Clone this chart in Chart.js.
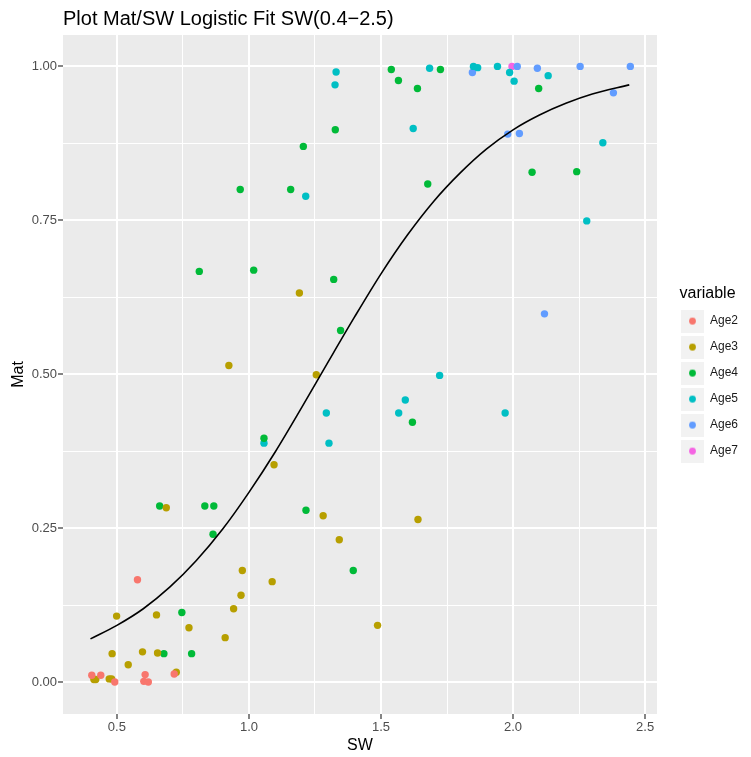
<!DOCTYPE html>
<html>
<head>
<meta charset="utf-8">
<script src="https://cdn.jsdelivr.net/npm/chart.js@4/dist/chart.umd.min.js"></script>
<style>
  html, body { margin: 0; padding: 0; background: #ffffff; }
  #wrap { width: 751px; height: 757px; }
</style>
</head>
<body>
<div id="wrap"><canvas id="c" width="751" height="757"></canvas></div>
<script>
// ---- data ----
const chartTitle = "Plot Mat/SW Logistic Fit SW(0.4\u22122.5)";
const xTitle = "SW";
const yTitle = "Mat";
const legendTitle = "variable";
const seriesNames = ["Age2", "Age3", "Age4", "Age5", "Age6", "Age7"];
const seriesColors = ["#F8766D", "#B79F00", "#00BA38", "#00BFC4", "#619CFF", "#F564E3"];

const age2SW  = [0.405, 0.439, 0.492, 0.578, 0.602, 0.607, 0.619, 0.717];
const age2Mat = [0.011, 0.011, 0.000, 0.166, 0.001, 0.012, 0.000, 0.013];

const age3SW  = [0.413, 0.420, 0.471, 0.480, 0.482, 0.499, 0.543, 0.597, 0.650, 0.654, 0.687, 0.725, 0.773, 0.910, 0.924, 0.942, 0.970, 0.975, 1.088, 1.095, 1.191, 1.255, 1.281, 1.342, 1.487, 1.640];
const age3Mat = [0.004, 0.004, 0.005, 0.005, 0.046, 0.107, 0.028, 0.049, 0.109, 0.047, 0.283, 0.016, 0.088, 0.072, 0.514, 0.119, 0.141, 0.181, 0.163, 0.353, 0.632, 0.499, 0.270, 0.231, 0.092, 0.264];

const age4SW  = [0.662, 0.678, 0.746, 0.783, 0.812, 0.833, 0.864, 0.867, 0.967, 1.018, 1.057, 1.158, 1.206, 1.216, 1.321, 1.327, 1.347, 1.395, 1.539, 1.566, 1.619, 1.638, 1.677, 1.725, 2.072, 2.097, 2.241];
const age4Mat = [0.286, 0.046, 0.113, 0.046, 0.667, 0.286, 0.240, 0.286, 0.800, 0.669, 0.396, 0.800, 0.870, 0.279, 0.654, 0.897, 0.571, 0.181, 0.995, 0.977, 0.422, 0.964, 0.809, 0.995, 0.828, 0.964, 0.829];

const age5SW  = [1.057, 1.215, 1.293, 1.303, 1.326, 1.330, 1.567, 1.592, 1.622, 1.684, 1.722, 1.850, 1.866, 1.941, 1.970, 1.987, 2.004, 2.133, 2.279, 2.340];
const age5Mat = [0.388, 0.789, 0.437, 0.388, 0.970, 0.991, 0.437, 0.458, 0.899, 0.997, 0.498, 1.000, 0.998, 1.000, 0.437, 0.990, 0.976, 0.985, 0.749, 0.876];

const age6SW  = [1.846, 1.980, 2.016, 2.024, 2.092, 2.119, 2.254, 2.380, 2.444];
const age6Mat = [0.990, 0.890, 1.000, 0.891, 0.997, 0.598, 1.000, 0.957, 1.000];

const age7SW  = [1.996];
const age7Mat = [1.000];

// fitted logistic line
const fitSW  = [0.40, 0.50, 0.60, 0.70, 0.80, 0.90, 1.00, 1.10, 1.20, 1.30, 1.40, 1.50, 1.60, 1.70, 1.80, 1.90, 2.00, 2.10, 2.20, 2.30, 2.44];
const fitMat = [0.070, 0.092, 0.119, 0.154, 0.197, 0.248, 0.308, 0.374, 0.446, 0.520, 0.593, 0.663, 0.726, 0.781, 0.827, 0.866, 0.897, 0.921, 0.940, 0.955, 0.970];

const xMajorTicks = [0.5, 1.0, 1.5, 2.0, 2.5];
const xMinorTicks = [0.75, 1.25, 1.75, 2.25];
const yMajorTicks = [0.00, 0.25, 0.50, 0.75, 1.00];
const yMinorTicks = [0.125, 0.375, 0.625, 0.875];

// ---- build chart ----
const sw = [age2SW, age3SW, age4SW, age5SW, age6SW, age7SW];
const mat = [age2Mat, age3Mat, age4Mat, age5Mat, age6Mat, age7Mat];
const toPts = (xs, ys) => xs.map((x, i) => ({ x: x, y: ys[i] }));

function keyImage(color) {
  const c = document.createElement('canvas');
  c.width = 23; c.height = 23;
  const g = c.getContext('2d');
  g.fillStyle = '#F2F2F2';
  g.fillRect(0, 0, 23, 23);
  g.fillStyle = color;
  g.beginPath();
  g.arc(11.5, 11.5, 3.4, 0, Math.PI * 2);
  g.fill();
  return c;
}
const keyImgs = seriesColors.map(keyImage);

const datasets = seriesNames.map((name, i) => ({
  type: 'scatter',
  label: name,
  data: toPts(sw[i], mat[i]),
  backgroundColor: seriesColors[i],
  borderColor: seriesColors[i],
  borderWidth: 0,
  pointRadius: 3.7,
  pointHoverRadius: 3.7,
  order: 2
}));
datasets.push({
  type: 'line',
  label: 'fit',
  data: toPts(fitSW, fitMat),
  borderColor: '#000000',
  borderWidth: 1.6,
  pointRadius: 0,
  fill: false,
  cubicInterpolationMode: 'monotone',
  order: 1
});

const panelBg = {
  id: 'panelBg',
  beforeDraw(chart) {
    const a = chart.chartArea, ctx = chart.ctx;
    ctx.save();
    ctx.fillStyle = '#EBEBEB';
    ctx.fillRect(a.left, a.top, a.right - a.left, a.bottom - a.top);
    ctx.restore();
  }
};

const isMajor = (list, v) => list.some(t => Math.abs(t - v) < 1e-9);

Chart.defaults.font.family = "'Liberation Sans', Arial, sans-serif";

const chart = new Chart(document.getElementById('c'), {
  data: { datasets: datasets },
  plugins: [panelBg],
  options: {
    responsive: false,
    animation: false,
    layout: { padding: { left: 0, right: 0, top: 0, bottom: 0 } },
    plugins: {
      tooltip: { enabled: false },
      title: {
        display: true,
        text: chartTitle,
        align: 'start',
        fullSize: false,
        color: '#000000',
        font: { size: 20, weight: 'normal' },
        padding: { top: 7, bottom: 4 }
      },
      legend: {
        display: true,
        position: 'right',
        align: 'center',
        title: {
          display: true,
          text: legendTitle,
          color: '#000000',
          position: 'center',
          font: { size: 16 },
          padding: { top: 0, bottom: -4 }
        },
        labels: {
          usePointStyle: true,
          pointStyleWidth: 23,
          padding: 14,
          color: '#1A1A1A',
          font: { size: 12 },
          filter: (item) => item.datasetIndex < seriesNames.length,
          generateLabels: (ch) => seriesNames.map((n, i) => ({
            text: n,
            pointStyle: keyImgs[i],
            fillStyle: seriesColors[i],
            strokeStyle: seriesColors[i],
            lineWidth: 0,
            hidden: false,
            datasetIndex: i,
            fontColor: '#1A1A1A'
          }))
        }
      }
    },
    scales: {
      x: {
        type: 'linear',
        position: 'bottom',
        min: 0.296,
        max: 2.545,
        afterBuildTicks: (s) => { s.ticks = xMajorTicks.concat(xMinorTicks).sort((a, b) => a - b).map(v => ({ value: v })); },
        afterFit: (s) => { s.height = 43; },
        ticks: {
          autoSkip: false,
          maxRotation: 0,
          padding: 1,
          color: '#4D4D4D',
          font: { size: 13 },
          callback: (v) => isMajor(xMajorTicks, v) ? v.toFixed(1) : ''
        },
        grid: {
          color: '#FFFFFF',
          lineWidth: (ctx) => ctx.tick && isMajor(xMajorTicks, ctx.tick.value) ? 2 : 1,
          tickLength: 5,
          tickWidth: 1.2,
          tickColor: (ctx) => ctx.tick && isMajor(xMajorTicks, ctx.tick.value) ? '#333333' : 'rgba(0,0,0,0)'
        },
        border: { display: false },
        title: {
          display: true,
          text: xTitle,
          color: '#000000',
          font: { size: 16 },
          padding: { top: 0, bottom: 2 }
        }
      },
      y: {
        type: 'linear',
        position: 'left',
        min: -0.052,
        max: 1.051,
        afterBuildTicks: (s) => { s.ticks = yMajorTicks.concat(yMinorTicks).sort((a, b) => a - b).map(v => ({ value: v })); },
        afterFit: (s) => { s.width = 63; },
        ticks: {
          autoSkip: false,
          padding: 1,
          color: '#4D4D4D',
          font: { size: 13 },
          callback: (v) => isMajor(yMajorTicks, v) ? v.toFixed(2) : ''
        },
        grid: {
          color: '#FFFFFF',
          lineWidth: (ctx) => ctx.tick && isMajor(yMajorTicks, ctx.tick.value) ? 2 : 1,
          tickLength: 5,
          tickWidth: 1.2,
          tickColor: (ctx) => ctx.tick && isMajor(yMajorTicks, ctx.tick.value) ? '#333333' : 'rgba(0,0,0,0)'
        },
        border: { display: false },
        title: {
          display: true,
          text: yTitle,
          color: '#000000',
          font: { size: 16 },
          padding: { top: 9, bottom: 0 }
        }
      },
      gap: {
        type: 'linear',
        position: 'right',
        display: true,
        ticks: { display: false },
        grid: { display: false, drawTicks: false },
        border: { display: false },
        afterFit: (s) => { s.width = 10; }
      }
    }
  }
});

// second pass: place the right edge of the panel like the reference
const targetRight = 657;
const extra = 751 - targetRight - 10 - chart.legend.width;
chart.options.layout.padding.right = Math.max(0, extra);
chart.update('none');
</script>
</body>
</html>
